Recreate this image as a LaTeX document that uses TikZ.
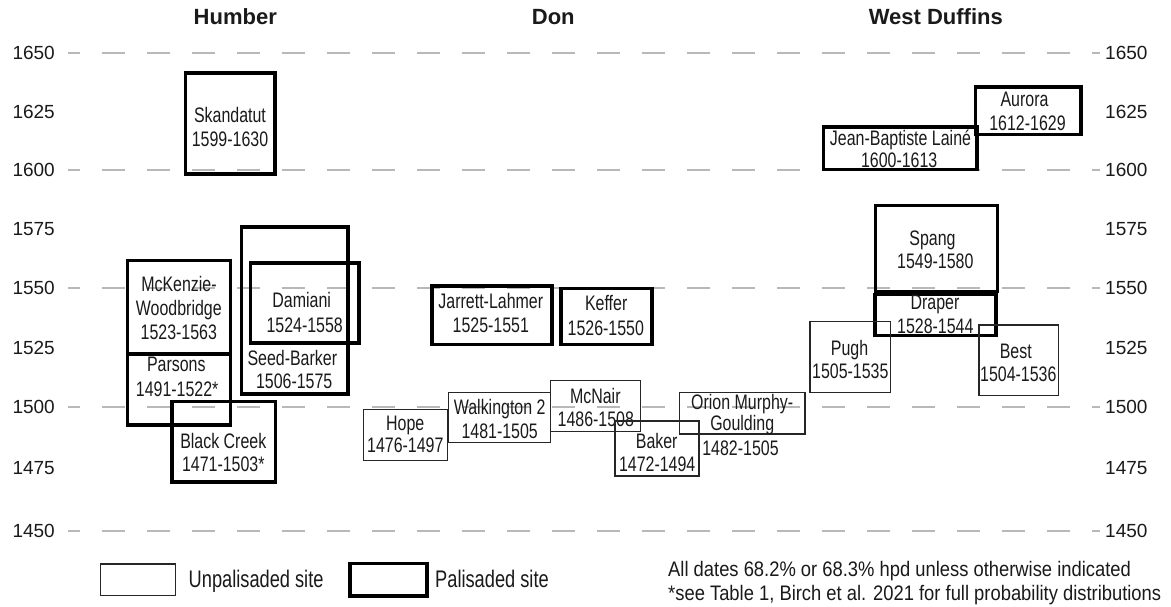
\documentclass[tikz,border=0pt]{standalone}
\usepackage{fontspec}
\setmainfont{Liberation Sans}
\newfontfamily\condf{Liberation Sans}[FakeStretch=0.76]
\newfontfamily\footf{Liberation Sans}[FakeStretch=0.875]
\usetikzlibrary{fit}
\definecolor{txt}{HTML}{1A1A1A}
\definecolor{gridc}{HTML}{B8B8B8}
\tikzset{
  thickbox/.style={draw=black, line width=3.6pt, inner sep=0pt, outer sep=0pt},
  thinbox/.style={draw=black!85, line width=1.4pt, inner sep=0pt, outer sep=0pt},
  lbl/.style={font=\condf\fontsize{21}{25}\selectfont, text=txt, anchor=base, inner sep=0pt},
  axl/.style={font=\fontsize{19}{22}\selectfont, text=txt, inner sep=0pt},
  ttl/.style={font=\bfseries\fontsize{22}{26}\selectfont, text=txt, anchor=base, inner sep=0pt},
  legt/.style={font=\condf\fontsize{24}{28}\selectfont, text=txt, anchor=base west, inner sep=0pt},
  foot/.style={font=\footf\fontsize{21}{25}\selectfont, text=txt, anchor=base west, inner sep=0pt},
  gridline/.style={draw=gridc, line width=1.8pt, dash pattern=on 23pt off 22pt, dash phase=11pt}
}
\begin{document}
\begin{tikzpicture}[x=1pt,y=-1pt]
\useasboundingbox[fill=white] (0,0) rectangle (1171,606);
% grid lines
\foreach \yy in {53,170,288,407,531} {
  \draw[gridline] (68,\yy) -- (1100,\yy);
}
% axis labels
\foreach \lab/\yb in {1650/59.8,1625/118.3,1600/176.8,1575/235.8,1550/294.8,1525/354.3,1500/413.8,1475/474.3,1450/537.8} {
  \node[axl, anchor=base east] (L\lab) at (55,\yb) {\lab};
  \node[axl, anchor=base west] (R\lab) at (1105,\yb) {\lab};
}
% titles
\node[ttl] (tHumber) at (235.3,24) {Humber};
\node[ttl] (tDon) at (553.3,24) {Don};
\node[ttl] (tWD) at (935.8,24) {West Duffins};

% ---- Humber ----
\node[thickbox, fit={(185.3,72.8) (274.7,173.7)}] (skand) {};
\node[lbl] (skandA) at (230,122.7) {Skandatut};
\node[lbl] (skandB) at (230,146) {1599-1630};

\node[thickbox, fit={(127.5,260.5) (230.5,353.8)}] (mck) {};
\node[lbl] (mckA) at (179,291.5) {McKenzie-};
\node[lbl] (mckB) at (178.8,315.3) {Woodbridge};
\node[lbl] (mckC) at (178.8,339) {1523-1563};

\node[thickbox, fit={(127.5,353.8) (230.5,424.7)}] (pars) {};
\node[lbl] (parsA) at (176.3,371.7) {Parsons};
\node[lbl] (parsB) at (177.2,396) {1491-1522*};

\node[thickbox, fit={(172,401.3) (275.3,482)}] (bc) {};
\node[lbl] (bcA) at (223.3,448.3) {Black Creek};
\node[lbl] (bcB) at (223.3,471.7) {1471-1503*};

\node[thickbox, fit={(241.3,227.2) (348,393.7)}] (sb) {};
\node[lbl] (sbA) at (292.3,365) {Seed-Barker};
\node[lbl] (sbB) at (294.2,388.3) {1506-1575};

\node[thickbox, fit={(250.5,262.8) (359,343)}] (dam) {};
\node[lbl] (damA) at (301.7,307.3) {Damiani};
\node[lbl] (damB) at (304.7,332.7) {1524-1558};

% ---- Don ----
\node[thickbox, fit={(431.7,285.7) (551.7,344.3)}] (jl) {};
\node[lbl] (jlA) at (490.8,308.3) {Jarrett-Lahmer};
\node[lbl] (jlB) at (490.8,332.7) {1525-1551};

\node[thickbox, fit={(561,288.3) (651.7,344.3)}] (kef) {};
\node[lbl] (kefA) at (606.2,310.7) {Keffer};
\node[lbl] (kefB) at (605.8,335) {1526-1550};

\node[thinbox, fit={(363.3,409.3) (447.3,460.7)}] (hope) {};
\node[lbl] (hopeA) at (405.3,430) {Hope};
\node[lbl] (hopeB) at (405.3,452.7) {1476-1497};

\node[thinbox, fit={(448.3,392.7) (550.7,442.3)}] (walk) {};
\node[lbl] (walkA) at (499.7,414) {Walkington 2};
\node[lbl] (walkB) at (499.7,438.3) {1481-1505};

\node[thinbox, fit={(550.7,380.7) (640.7,431.7)}] (mcn) {};
\node[lbl] (mcnA) at (595.3,403.3) {McNair};
\node[lbl] (mcnB) at (595.8,426.7) {1486-1508};

\node[thinbox, fit={(615,421) (699,476)}] (bak) {};
\node[lbl] (bakA) at (656.7,448.3) {Baker};
\node[lbl] (bakB) at (657.2,471.7) {1472-1494};

\node[thinbox, fit={(679.3,392.7) (805,434)}] (omg) {};
\node[lbl] (omgA) at (742.2,409.3) {Orion Murphy-};
\node[lbl] (omgB) at (742.2,430.7) {Goulding};
\node[lbl] (omgC) at (740.5,455) {1482-1505};

% ---- West Duffins ----
\node[thickbox, fit={(975.3,87) (1080.7,134.3)}] (aur) {};
\node[lbl] (aurA) at (1024.5,106.7) {Aurora};
\node[lbl] (aurB) at (1027.5,130) {1612-1629};

\node[thickbox, fit={(823.3,126.7) (976.7,169.3)}] (jbl) {};
\node[lbl] (jblA) at (900.5,145) {Jean-Baptiste Lainé};
\node[lbl] (jblB) at (899.2,167.3) {1600-1613};

\node[thickbox, fit={(875.3,205.3) (997.3,291.3)}] (spang) {};
\node[lbl] (spangA) at (932.5,245) {Spang};
\node[lbl] (spangB) at (935.3,268.3) {1549-1580};

\node[thickbox, fit={(874.7,294.3) (996.2,335.3)}] (drap) {};
\node[lbl] (drapA) at (935,309.3) {Draper};
\node[lbl] (drapB) at (935.3,333.3) {1528-1544};

\node[thinbox, fit={(810,321.7) (890.7,392.7)}] (pugh) {};
\node[lbl] (pughA) at (849.5,355) {Pugh};
\node[lbl] (pughB) at (850.3,378.3) {1505-1535};

\node[thinbox, fit={(979,325) (1058.3,395.7)}] (best) {};
\node[lbl] (bestA) at (1015.8,358.3) {Best};
\node[lbl] (bestB) at (1018.3,381.7) {1504-1536};

% ---- legend ----
\node[thinbox, line width=1.5pt, fit={(100.6,564) (175.7,595.5)}] (legU) {};
\node[legt] (legUt) at (188.5,587) {Unpalisaded site};
\node[thickbox, line width=3.8pt, fit={(350,563.5) (427,596)}] (legP) {};
\node[legt] (legPt) at (435,587) {Palisaded site};

% ---- footnote ----
\node[foot] (fn1) at (668,576) {All dates 68.2\% or 68.3\% hpd unless otherwise indicated};
\node[foot] (fn2) at (668,600) {*see Table 1, Birch et al. 2021 for full probability distributions};
\end{tikzpicture}
\end{document}
